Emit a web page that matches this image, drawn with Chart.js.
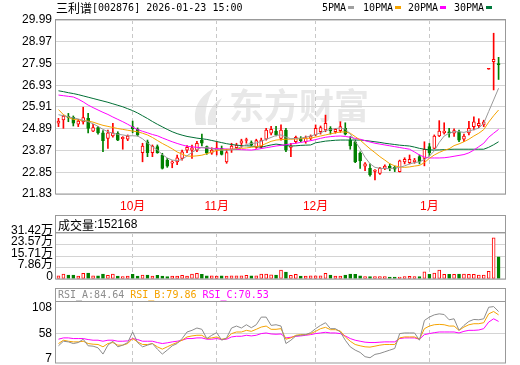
<!DOCTYPE html>
<html>
<head>
<meta charset="utf-8">
<script src="https://cdn.jsdelivr.net/npm/chart.js@4.4.1/dist/chart.umd.min.js"></script>
<style>
  html, body { margin: 0; padding: 0; background: #fff; }
  #wrap { position: relative; width: 520px; height: 365px; overflow: hidden; }
  canvas { position: absolute; left: 0; }
</style>
</head>
<body>
<div id="wrap">
  <canvas id="kline" width="520" height="214" style="top:0"></canvas>
  <canvas id="vol" width="520" height="66" style="top:214px"></canvas>
  <canvas id="rsi" width="520" height="78" style="top:287px"></canvas>
</div>
<script>
// daily candles, 2025-09 .. 2026-01-23
const open = [25.15,25.30,25.47,25.43,25.11,25.21,25.38,24.78,24.94,24.70,
  24.44,24.55,24.68,24.42,24.40,24.99,24.88,23.77,24.28,23.77,
  24.05,23.66,23.42,23.27,23.34,23.50,23.89,23.89,23.89,24.36,
  24.05,23.74,23.89,23.97,23.34,23.92,24.00,24.21,24.34,24.24,
  24.02,24.05,24.40,24.68,24.78,24.44,24.83,24.02,24.28,24.44,
  24.28,24.44,24.60,24.75,24.83,24.91,24.75,24.80,24.91,24.36,
  24.28,23.74,23.14,23.03,22.89,22.80,23.03,23.14,23.08,22.88,
  23.34,23.30,23.34,23.58,23.50,24.05,23.97,24.55,24.70,24.74,
  24.68,24.75,24.40,24.70,24.99,25.03,25.07,27.68,28.03,27.95];
const close = [25.25,25.49,25.41,25.15,25.25,25.41,24.91,24.94,24.70,24.33,
  24.70,24.70,24.36,24.49,24.55,24.89,24.60,24.08,23.77,24.08,
  23.77,23.03,23.14,23.34,23.53,23.81,24.02,24.00,24.21,24.21,
  23.74,23.89,24.00,23.69,23.77,24.08,24.13,24.32,24.38,24.13,
  24.33,24.36,24.83,24.86,24.60,24.83,23.89,24.08,24.49,24.33,
  24.47,24.55,24.91,24.94,25.15,24.80,24.86,24.99,24.64,24.08,
  23.34,23.38,23.24,22.72,22.95,23.03,23.14,23.03,22.99,23.39,
  23.46,23.46,23.42,23.34,23.92,23.76,24.55,24.78,24.78,24.68,
  24.80,24.36,24.55,24.91,25.22,25.15,25.22,27.68,28.15,27.89];
const high = [25.38,25.53,25.61,25.49,25.33,25.90,25.61,25.10,25.00,24.80,
  24.83,25.15,24.75,24.52,24.60,25.25,24.93,24.21,24.36,24.13,
  24.13,23.74,23.50,23.39,23.66,23.89,24.10,24.12,24.30,24.64,
  24.08,24.00,24.28,24.08,23.93,24.21,24.21,24.40,24.45,24.32,
  24.40,24.45,24.91,25.00,25.00,25.07,24.91,24.21,24.55,24.52,
  24.55,24.60,25.07,25.02,25.53,24.99,24.91,25.22,25.17,24.52,
  24.36,23.81,23.30,23.24,22.97,23.08,23.20,23.24,23.14,23.42,
  23.53,23.66,23.50,23.66,24.28,24.20,24.60,25.27,25.17,24.91,
  24.89,24.83,24.64,25.24,25.45,25.36,25.29,27.68,29.37,28.24];
const low = [24.99,24.91,25.22,25.02,24.99,25.11,24.70,24.75,24.64,23.81,
  23.97,24.49,24.33,23.93,24.33,24.70,24.55,23.34,23.58,23.58,
  23.74,23.00,23.08,23.06,23.20,23.42,23.77,23.50,23.81,24.08,
  23.69,23.69,23.66,23.66,23.27,23.78,23.92,24.02,24.21,24.08,
  23.97,23.97,24.36,24.60,24.55,24.36,23.81,23.58,24.21,24.28,
  24.21,24.36,24.55,24.64,24.75,24.64,24.68,24.72,24.60,23.93,
  23.30,23.03,22.92,22.67,22.49,22.75,22.97,22.92,22.88,22.86,
  23.24,23.24,23.27,23.24,23.15,23.62,23.95,24.52,24.64,24.49,
  24.53,24.28,24.28,24.60,24.83,24.94,24.99,27.68,26.71,27.20];
const volume = [22500,33700,27000,27000,20200,38200,40400,22500,22500,33700,
  24700,33700,20200,15700,20200,31500,20200,27000,27000,20200,
  24700,20200,15700,20200,20200,24700,20200,33700,38200,31500,
  22500,22500,20200,22500,20200,22500,22500,22500,24700,22500,
  22500,33700,33700,29200,27000,60700,47200,24700,31500,20200,
  20200,22500,22500,22500,38200,27000,20200,20200,27000,33700,
  31500,22500,15700,15700,15700,15700,15700,13500,13500,13500,
  15700,18000,15700,15700,49400,31500,40400,60700,31500,31500,
  31500,33700,33700,31500,31500,27000,27000,51700,281000,152168];

const ma5 = [25.55,25.50,25.45,25.40,25.35,25.28,25.22,25.12,25.00,24.86,
  24.75,24.68,24.63,24.60,24.56,24.56,24.55,24.42,24.22,24.05,
  23.90,23.68,23.52,23.42,23.40,23.45,23.62,23.78,23.92,24.02,
  24.00,23.95,23.92,23.89,23.88,23.90,23.95,24.05,24.15,24.20,
  24.22,24.30,24.40,24.48,24.58,24.60,24.50,24.42,24.44,24.45,
  24.50,24.55,24.62,24.70,24.80,24.86,24.90,24.92,24.88,24.65,
  24.30,23.95,23.55,23.25,23.08,23.04,23.02,23.02,23.05,23.08,
  23.15,23.24,23.30,23.34,23.45,23.61,23.85,24.25,24.55,24.68,
  24.75,24.75,24.72,24.78,24.85,24.92,25.15,25.70,26.24,26.79];
const ma10 = [25.79,25.55,25.42,25.33,25.30,25.27,25.25,25.20,25.12,25.05,
  25.00,24.95,24.90,24.86,24.82,24.78,24.75,24.68,24.60,24.48,
  24.34,24.20,24.08,23.95,23.80,23.70,23.61,23.60,23.62,23.65,
  23.72,23.80,23.87,23.90,23.92,23.93,23.95,23.97,23.99,24.02,
  24.05,24.10,24.20,24.30,24.36,24.38,24.40,24.40,24.41,24.42,
  24.44,24.45,24.50,24.55,24.60,24.65,24.70,24.74,24.74,24.68,
  24.52,24.36,24.15,23.95,23.77,23.58,23.42,23.25,23.15,23.10,
  23.08,23.10,23.14,23.17,23.30,23.50,23.66,23.78,23.88,23.95,
  24.10,24.18,24.28,24.40,24.55,24.68,24.85,25.20,25.50,25.77];
const ma20 = [26.47,26.44,26.41,26.38,26.28,26.15,26.00,25.88,25.77,25.66,
  25.56,25.44,25.33,25.22,25.10,24.97,24.85,24.77,24.70,24.62,
  24.56,24.46,24.37,24.28,24.20,24.13,24.07,24.04,24.02,24.00,
  23.99,23.97,23.96,23.95,23.94,23.93,23.92,23.91,23.90,23.89,
  23.92,23.96,24.00,24.04,24.08,24.11,24.14,24.18,24.21,24.25,
  24.29,24.33,24.38,24.44,24.49,24.52,24.54,24.55,24.53,24.49,
  24.44,24.40,24.33,24.27,24.21,24.17,24.13,24.09,24.05,24.01,
  23.97,23.93,23.80,23.66,23.56,23.52,23.52,23.52,23.53,23.56,
  23.60,23.64,23.68,23.76,23.89,24.05,24.21,24.49,24.68,24.86];
const ma30 = [26.67,26.63,26.58,26.54,26.49,26.43,26.37,26.31,26.25,26.19,
  26.13,26.06,25.99,25.92,25.83,25.74,25.63,25.50,25.37,25.23,
  25.10,24.98,24.86,24.75,24.66,24.59,24.53,24.49,24.45,24.42,
  24.39,24.34,24.29,24.24,24.19,24.15,24.12,24.10,24.09,24.08,
  24.05,24.02,24.08,24.13,24.17,24.14,24.10,24.08,24.09,24.11,
  24.12,24.13,24.23,24.27,24.31,24.33,24.35,24.36,24.36,24.36,
  24.36,24.36,24.34,24.31,24.28,24.25,24.21,24.18,24.15,24.12,
  24.10,24.08,24.03,23.97,23.93,23.90,23.89,23.90,23.91,23.92,
  23.93,23.93,23.93,23.93,23.93,23.93,23.93,24.02,24.14,24.28];

const rsiA = [33.1,42.2,40.9,37.6,39.6,46.2,33.1,32.4,29.1,16.7,
  34.4,42.2,31.1,34.4,39.6,60.5,39.6,31.1,34.4,37.6,
  26.5,16.7,24.6,33.1,37.6,47.5,60.5,63.8,68.4,65.8,
  47.5,54.0,59.2,44.2,48.8,68.4,72.3,68.4,74.9,69.0,
  74.9,90.0,90.0,73.6,74.9,72.3,37.6,44.2,52.7,54.0,
  55.3,59.2,67.1,73.6,78.9,67.1,67.1,60.5,44.2,31.1,
  24.6,20.0,11.5,9.5,16.1,18.0,21.3,24.6,27.8,57.3,
  58.6,58.6,58.6,44.2,83.4,90.0,94.5,96.5,95.2,84.7,
  86.7,63.8,73.6,81.5,85.4,84.7,86.7,109.6,110.9,101.1];
const rsiB = [37.6,44.2,42.2,40.9,40.9,42.2,37.6,36.3,35.7,31.1,
  37.6,39.6,34.4,34.4,37.6,47.5,40.9,35.7,35.7,37.6,
  31.1,26.5,31.1,35.7,39.6,44.2,50.7,52.7,54.0,54.0,
  47.5,48.8,50.7,46.2,47.5,57.3,60.5,60.5,63.8,61.8,
  65.8,70.3,72.3,65.8,65.8,67.1,46.2,48.8,54.0,55.3,
  55.3,57.3,61.8,67.1,69.7,65.1,65.1,62.5,50.7,42.2,
  35.7,33.1,31.1,30.5,32.4,34.4,35.7,35.7,35.7,48.8,
  50.7,50.7,50.7,46.2,67.1,72.3,74.9,75.6,74.9,72.3,
  72.3,63.8,70.3,74.9,76.9,76.9,78.9,96.5,101.1,94.5];
const rsiC = [46.2,48.8,48.8,47.5,47.5,47.5,45.5,44.2,44.2,42.2,
  44.2,44.2,42.2,42.2,42.9,47.5,45.5,42.2,42.2,42.2,
  39.6,37.6,39.0,40.9,42.2,44.2,47.5,47.5,48.8,48.8,
  46.2,46.2,47.5,45.5,46.2,50.7,52.0,52.0,54.0,52.7,
  54.0,57.3,58.6,56.6,56.0,56.6,48.8,50.1,52.0,52.7,
  54.0,55.3,57.3,58.6,59.9,58.6,58.6,57.3,52.7,47.5,
  44.2,42.2,40.3,39.6,39.6,40.3,40.9,40.9,40.9,47.5,
  48.8,48.8,48.8,46.2,55.3,57.3,59.2,60.5,60.5,60.5,
  60.5,58.6,61.8,63.8,63.8,64.5,67.1,80.2,86.7,81.5];

const priceTicks = [21.83,22.85,23.87,24.89,25.91,26.93,27.95,28.97,29.99];
const volTicks = [0,78600,157100,235700,314200];
const volTickLabels = ['0','7.86万','15.71万','23.57万','31.42万'];
const rsiTicks = [7,58,108];
const monthStarts = [15,32,52,75];
const monthNames = ['10月','11月','12月','1月'];

const slots = 91; // one spare slot at the right edge
const labels = Array.from({length: slots}, (_, i) => String(i));

const RED = '#ff0000', GREEN = '#008000', GRID = '#d4d4d4', FRAME = '#999999';
const MONO = "10px 'DejaVu Sans Mono'";
const CJK = "12px 'Noto Sans CJK SC'";
const SANS = "12px 'Liberation Sans', 'Noto Sans CJK SC'";
const up = open.map((o, i) => close[i] >= o);

function drawRuns(ctx, x, y, runs) {
  ctx.save();
  ctx.textBaseline = 'middle';
  ctx.textAlign = 'left';
  for (const [text, font, color] of runs) {
    ctx.font = font;
    ctx.fillStyle = color;
    ctx.fillText(text, x, y);
    x += ctx.measureText(text).width;
  }
  ctx.restore();
}

const framePlugin = {
  id: 'frame',
  afterDraw(chart, args, opts) {
    const {ctx, chartArea: a} = chart;
    ctx.save();
    ctx.strokeStyle = FRAME;
    ctx.lineWidth = 1;
    const top = opts.boxTop != null ? opts.boxTop : a.top - 0.5;
    ctx.strokeRect(a.left - 0.5, top, a.right - a.left, a.bottom - top);
    if (opts.boxTop != null) {
      ctx.beginPath();
      ctx.moveTo(a.left - 0.5, a.top - 0.5);
      ctx.lineTo(a.right - 0.5, a.top - 0.5);
      ctx.stroke();
    }
    ctx.restore();
    if (opts.draw) opts.draw(chart);
  }
};

const xGrid = {
  offset: false,
  drawTicks: false,
  color: c => monthStarts.includes(c.index) ? '#c8c8c8' : 'transparent'
};

// fixed axis width, and no extra label padding so the plot area is set by layout.padding
function fixedY(width) {
  return s => { s.width = width; s.paddingTop = 0; s.paddingBottom = 0; };
}

// ---------- K line ----------
new Chart(document.getElementById('kline'), {
  type: 'bar',
  data: {
    labels: labels,
    datasets: [
      { type: 'line', label: '5PMA', data: ma5, borderColor: '#999999', borderWidth: 1, pointRadius: 0, order: -1 },
      { type: 'line', label: '10PMA', data: ma10, borderColor: '#f5a300', borderWidth: 1, pointRadius: 0, order: -1 },
      { type: 'line', label: '20PMA', data: ma20, borderColor: '#ff00ff', borderWidth: 1, pointRadius: 0, order: -1 },
      { type: 'line', label: '30PMA', data: ma30, borderColor: '#006f35', borderWidth: 1, pointRadius: 0, order: -1 },
      {
        label: 'body', data: open.map((o, i) => [o, close[i]]),
        backgroundColor: up.map((u, i) => u ? (open[i] === close[i] ? RED : '#ffffff') : GREEN),
        borderColor: up.map(u => u ? RED : GREEN),
        borderWidth: 1, borderSkipped: false, barThickness: 3, minBarLength: 1, grouped: false, order: 1
      },
      {
        label: 'wick', data: low.map((l, i) => [l, high[i]]),
        backgroundColor: up.map(u => u ? RED : GREEN),
        barThickness: 1, grouped: false, order: 2
      }
    ]
  },
  options: {
    responsive: false,
    animation: false,
    layout: { padding: { top: 20, right: 14, bottom: 0, left: 0 } },
    plugins: {
      legend: { display: false },
      tooltip: { enabled: false },
      frame: {
        draw(chart) {
          const ctx = chart.ctx;
          drawRuns(ctx, 56, 8, [['三利谱', CJK, '#000'], ['[002876] 2026-01-23 15:00', MONO, '#000']]);
          const items = [['5PMA', '#a0a0a0', 322], ['10PMA', '#f5a300', 363], ['20PMA', '#ff00ff', 408], ['30PMA', '#007a3d', 454]];
          ctx.save();
          ctx.font = MONO;
          ctx.textBaseline = 'middle';
          for (const [t, c, x] of items) {
            ctx.fillStyle = '#000';
            ctx.fillText(t, x, 8);
            const w = ctx.measureText(t).width;
            ctx.fillStyle = c;
            ctx.fillRect(Math.round(x + w + 2), 6, 6, 3);
          }
          ctx.restore();
        }
      }
    },
    scales: {
      x: {
        offset: true,
        grid: xGrid,
        border: { display: false, dash: [4, 3] },
        ticks: {
          autoSkip: false, maxRotation: 0, padding: 5,
          color: RED, font: { family: "'Liberation Sans', 'Noto Sans CJK SC'", size: 12 },
          callback: (v, i) => { const k = monthStarts.indexOf(i); return k >= 0 ? monthNames[k] : ''; }
        },
        afterFit: s => { s.height = 20; }
      },
      y: {
        min: 21.83, max: 29.99,
        afterBuildTicks: s => { s.ticks = priceTicks.map(v => ({ value: v })); },
        grid: { color: GRID, drawTicks: false },
        border: { display: false },
        ticks: {
          autoSkip: false, padding: 4, color: '#000', font: { family: "'Liberation Sans'", size: 12 },
          callback: v => v.toFixed(2)
        },
        afterFit: fixedY(56)
      }
    }
  },
  plugins: [{
    id: 'watermark',
    beforeDraw(chart) {
      const ctx = chart.ctx;
      ctx.save();
      ctx.fillStyle = '#e8e8e8';
      // flame-like logo
      ctx.beginPath();
      ctx.moveTo(196, 125);
      ctx.quadraticCurveTo(190, 102, 214, 88);
      ctx.quadraticCurveTo(203, 106, 206, 125);
      ctx.closePath();
      ctx.fill();
      ctx.beginPath();
      ctx.moveTo(208, 125);
      ctx.quadraticCurveTo(206, 108, 222, 98);
      ctx.quadraticCurveTo(213, 112, 217, 125);
      ctx.closePath();
      ctx.fill();
      ctx.font = "bold 35px 'Noto Sans CJK SC'";
      ctx.textBaseline = 'middle';
      ctx.fillText('东方财富', 229, 106);
      ctx.restore();
    }
  }, framePlugin]
});

// ---------- volume ----------
new Chart(document.getElementById('vol'), {
  type: 'bar',
  data: {
    labels: labels,
    datasets: [{
      label: '成交量', data: volume,
      backgroundColor: up.map(u => u ? '#ffffff' : GREEN),
      borderColor: up.map(u => u ? RED : GREEN),
      borderWidth: 1, borderSkipped: false, barThickness: 3
    }]
  },
  options: {
    responsive: false,
    animation: false,
    layout: { padding: { top: 19, right: 14, bottom: 1, left: 0 } },
    plugins: {
      legend: { display: false },
      tooltip: { enabled: false },
      frame: {
        boxTop: 1.5,
        draw(chart) {
          drawRuns(chart.ctx, 58, 11, [['成交量', CJK, '#000'], [':152168', SANS, '#000']]);
        }
      }
    },
    scales: {
      x: {
        offset: true,
        grid: xGrid,
        border: { display: false, dash: [4, 3] },
        ticks: { display: false },
        afterFit: s => { s.height = 0; }
      },
      y: {
        min: 0, max: 314200,
        afterBuildTicks: s => { s.ticks = volTicks.map(v => ({ value: v })); },
        grid: { color: GRID, drawTicks: false },
        border: { display: false },
        ticks: {
          autoSkip: false, padding: 3, labelOffset: -2.5, color: '#000',
          font: { family: "'Liberation Sans', 'Noto Sans CJK SC'", size: 12 },
          callback: (v, i) => volTickLabels[i]
        },
        afterFit: fixedY(56)
      }
    }
  },
  plugins: [framePlugin]
});

// ---------- RSI ----------
new Chart(document.getElementById('rsi'), {
  type: 'line',
  data: {
    labels: labels,
    datasets: [
      { label: 'RSI_A', data: rsiA, borderColor: '#8c8c8c', borderWidth: 1, pointRadius: 0 },
      { label: 'RSI_B', data: rsiB, borderColor: '#f5a300', borderWidth: 1, pointRadius: 0 },
      { label: 'RSI_C', data: rsiC, borderColor: '#ff00ff', borderWidth: 1, pointRadius: 0 }
    ]
  },
  options: {
    responsive: false,
    animation: false,
    layout: { padding: { top: 15, right: 14, bottom: 2, left: 0 } },
    plugins: {
      legend: { display: false },
      tooltip: { enabled: false },
      frame: {
        boxTop: 1.5,
        draw(chart) {
          drawRuns(chart.ctx, 58, 8, [
            ['RSI_A:84.64 ', MONO, '#8c8c8c'],
            ['RSI_B:79.86 ', MONO, '#f5a300'],
            ['RSI_C:70.53', MONO, '#ff00ff']
          ]);
        }
      }
    },
    scales: {
      x: {
        offset: true,
        grid: xGrid,
        border: { display: false, dash: [4, 3] },
        ticks: { display: false },
        afterFit: s => { s.height = 0; }
      },
      y: {
        min: -1, max: 120,
        afterBuildTicks: s => { s.ticks = rsiTicks.map(v => ({ value: v })); },
        grid: { color: c => c.tick && c.tick.value === 58 ? GRID : 'transparent', drawTicks: false },
        border: { display: false },
        ticks: { autoSkip: false, padding: 4, color: '#000', font: { family: "'Liberation Sans'", size: 12 } },
        afterFit: fixedY(56)
      }
    }
  },
  plugins: [framePlugin]
});
</script>
</body>
</html>
